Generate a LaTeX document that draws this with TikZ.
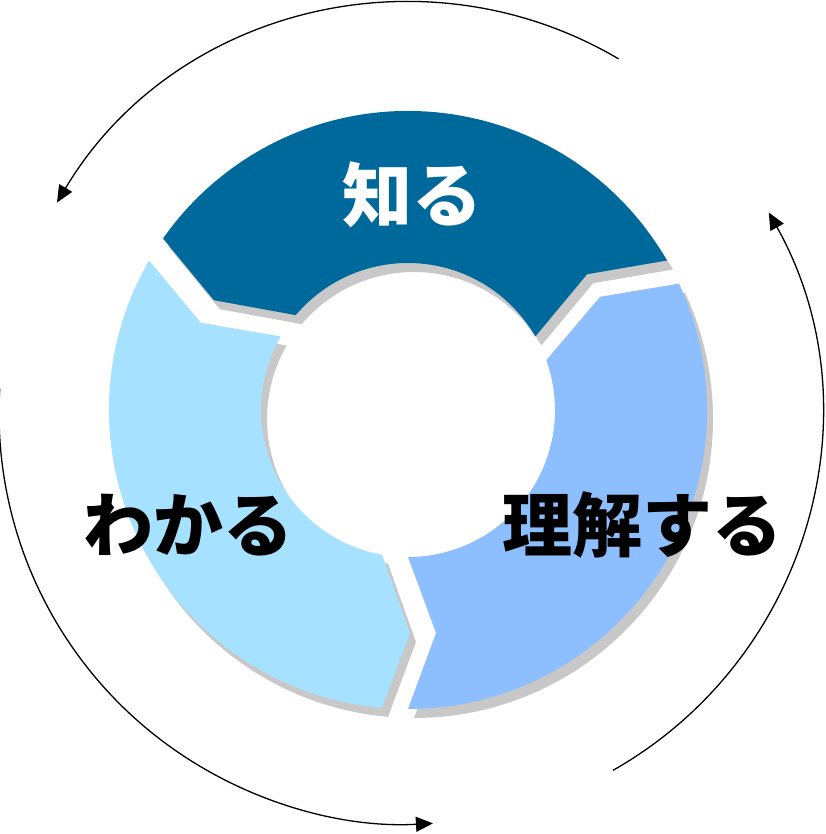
\documentclass[tikz,border=0pt]{standalone}
\usepackage{fontspec}
\newfontfamily\jp{Noto Sans CJK JP}
\usetikzlibrary{arrows.meta}
\definecolor{segdark}{RGB}{0,105,155}
\definecolor{segmid}{RGB}{141,190,253}
\definecolor{seglight}{RGB}{166,225,255}
\definecolor{segshadow}{RGB}{200,200,200}
\newcommand\ringsegpath[1]{(#1:299) arc[start angle=#1, end angle=#1+115.01, radius=299] -- (#1+120.51:223) -- (#1+109.81:147) arc[start angle=#1+109.81, end angle=#1, radius=147] -- (#1+7.16:224.75) -- cycle}
\begin{document}
\begin{tikzpicture}[x=1pt,y=1pt,
  jptext/.style={font={\jp\bfseries\fontsize{70}{82}\selectfont}, inner sep=0pt},
  cyclearrow/.style={line width=1.3pt, -{Triangle[length=17pt,width=15pt]}}]
\useasboundingbox (0,0) rectangle (825,834);
\begin{scope}[shift={(414,415)}]
  \foreach \a in {30,150,270} \fill[segshadow] \ringsegpath{\a};
\end{scope}
\begin{scope}[shift={(408,424)}]
  \fill[segdark] \ringsegpath{30};
  \fill[seglight] \ringsegpath{150};
  \fill[segmid] \ringsegpath{270};
\end{scope}
\node[jptext, text=white] (know) at (412,639) {知る};
\node[jptext] (wakaru) at (188,309) {わかる};
\node[jptext] (rikai) at (642,309) {理解する};
\begin{scope}[shift={(410,421)}]
  \coordinate (a1s) at (59.5:411);
  \coordinate (a2s) at (176.6:411);
  \coordinate (a3s) at (299.6:411);
  \draw[cyclearrow] (a1s) arc[start angle=59.5, end angle=149.2, radius=411];
  \draw[cyclearrow] (a2s) arc[start angle=176.6, end angle=273.2, radius=411];
  \draw[cyclearrow] (a3s) arc[start angle=299.6, end angle=389.2, radius=411];
\end{scope}
\end{tikzpicture}
\end{document}
